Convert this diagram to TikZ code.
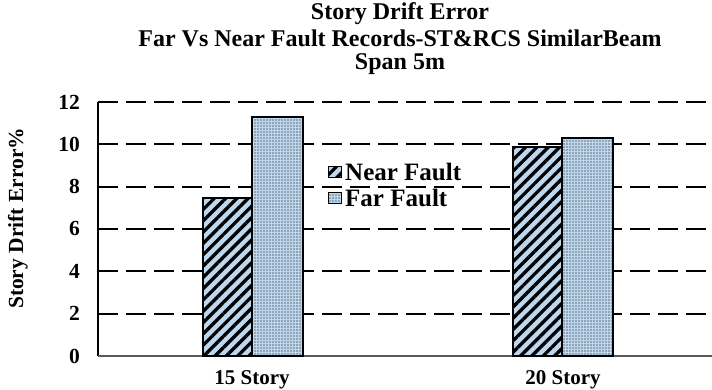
\documentclass[tikz,border=0pt]{standalone}
\usepackage{fontspec}
\setmainfont{Liberation Serif}
\usetikzlibrary{patterns.meta,positioning}
\definecolor{barblue}{RGB}{189,215,238}
\definecolor{axisgray}{RGB}{90,90,90}

\tikzset{
  gridline/.style={line width=1.8pt, dash pattern=on 20pt off 8pt},
  nearbar/.style={draw=black, line width=1.5pt, preaction={fill=barblue},
    pattern={Lines[angle=45,distance=8pt,line width=3.3pt]}, pattern color=black},
  farbar/.style={draw=black, line width=1.5pt, preaction={fill=barblue},
    pattern={Dots[distance=3pt,radius=0.7pt]}, pattern color=black},
  titletext/.style={font=\bfseries\fontsize{24}{26}\selectfont, inner sep=0pt},
  ticktext/.style={font=\bfseries\fontsize{21.5}{23}\selectfont, anchor=east, inner sep=0pt},
  cattext/.style={font=\bfseries\fontsize{21}{23}\selectfont, inner sep=0pt},
  legendtext/.style={font=\bfseries\fontsize{25}{27}\selectfont, inner sep=0pt},
  legendkey/.style={minimum width=13pt, minimum height=11pt, inner sep=0pt},
}

\begin{document}
\begin{tikzpicture}[x=1pt,y=1pt]
\useasboundingbox (0,0) rectangle (712,390);
% chart title
\node[titletext] (titleA) at (400,376) {Story Drift Error};
\node[titletext] (titleB) at (400,352) {Far Vs Near Fault Records-ST\&RCS SimilarBeam};
\node[titletext] (titleC) at (400,326) {Span 5m};

\begin{scope}[shift={(98,34)},y=21.17pt]
  % grid lines and value labels
  \foreach \v in {2,4,...,12} {
    \draw[gridline] (0,\v) -- (614,\v);
    \node[ticktext] (tick\v) at (-18,\v) {\v};
  }
  \node[ticktext] (tick0) at (-18,0) {0};
  \draw[line width=1.2pt] (0,12) -- (0,0);
  \draw[axisgray, line width=1.2pt] (0,0) -- (614,0);

  % bars: near / far fault
  \foreach \x/\near/\far in {105/7.46/11.3, 415/9.87/10.3} {
    \draw[nearbar] (\x,0) rectangle (\x+49,\near);
    \draw[farbar] (\x+49,0) rectangle (\x+100,\far);
  }

  % category labels
  \node[cattext] (cat15) at (154,-1.13) {15 Story};
  \node[cattext] (cat20) at (465,-1.13) {20 Story};

  % axis title
  \node[rotate=90, font=\bfseries\fontsize{21.5}{23}\selectfont] (ylab) at (-80,6.5) {Story Drift Error\%};

  % legend
  \node[legendkey, nearbar, line width=1pt] (keynear) at (237,8.69) {};
  \node[legendkey, farbar, line width=1pt] (keyfar) at (237,7.48) {};
  \node[legendtext, right=3pt of keynear] (labnear) {Near Fault};
  \node[legendtext, right=3pt of keyfar] (labfar) {Far Fault};
\end{scope}
\end{tikzpicture}
\end{document}
